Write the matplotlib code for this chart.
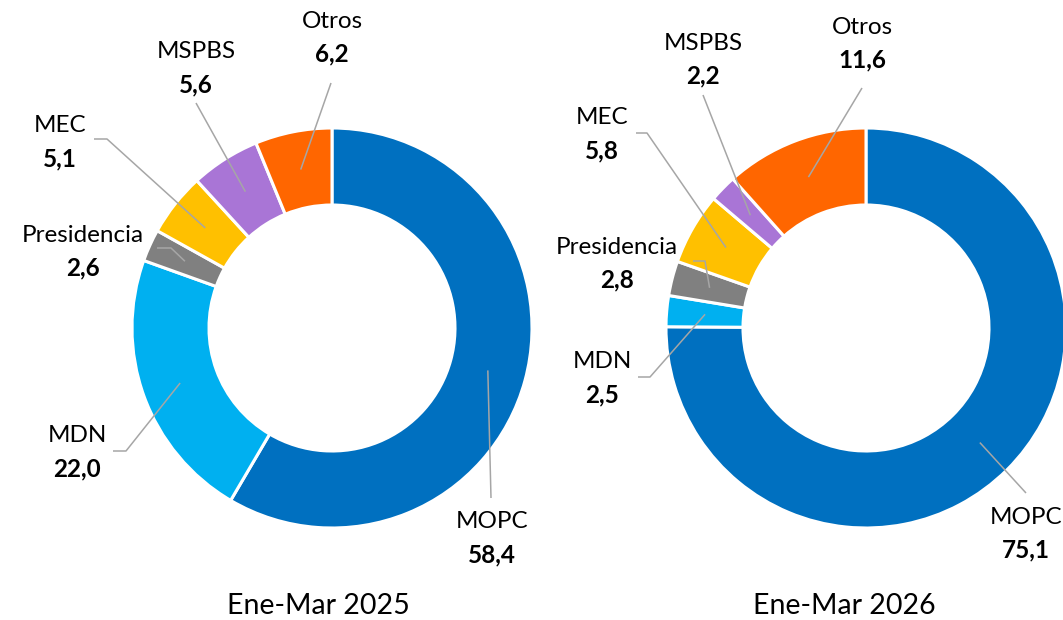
import numpy as np
import matplotlib
matplotlib.use("Agg")
import matplotlib.pyplot as plt

plt.rcParams['font.family'] = ['Lato', 'DejaVu Sans']

# data
categories = ["MOPC", "MDN", "Presidencia", "MEC", "MSPBS", "Otros"]
values_2025 = [58.4, 22.0, 2.6, 5.1, 5.6, 6.2]
values_2026 = [75.1, 2.5, 2.8, 5.8, 2.2, 11.6]
titles = ["Ene-Mar 2025", "Ene-Mar 2026"]
colors = ["#0070C0", "#00B0F0", "#808080", "#FFC000", "#A975D6", "#FF6600"]

# layout (pixel coords, y from top)
W, H = 1063, 620
centers = [(332, 328), (866, 328)]
R = 200
RING = 77
title_pos = [(318, 606), (844, 606)]

# label name position, and leader start point (+ optional elbow)
labels_2025 = {
    "MOPC": ((492, 522), [(491, 498)]),
    "MDN": ((77, 436), [(113, 451), (126, 451)]),
    "Presidencia": ((83, 235), [(157, 248), (171, 248)]),
    "MEC": ((60, 126), [(94, 139), (107, 139)]),
    "MSPBS": ((196, 52), [(196, 103)]),
    "Otros": ((332, 21), [(331, 83)]),
}
labels_2026 = {
    "MOPC": ((1026, 517), [(1026, 493)]),
    "MDN": ((602, 362), [(638, 377), (650, 377)]),
    "Presidencia": ((617, 247), [(693, 261), (705, 261)]),
    "MEC": ((602, 118), [(636, 133), (647, 133)]),
    "MSPBS": ((703, 43), [(703, 95)]),
    "Otros": ((862, 27), [(862, 88)]),
}


def fy(y):
    return H - y


fig = plt.figure(figsize=(W / 100, H / 100), dpi=100)
ax = fig.add_axes([0, 0, 1, 1])

for values, (cx, cy), labels, title, tpos in zip(
        [values_2025, values_2026], centers, [labels_2025, labels_2026],
        titles, title_pos):
    ax.pie(values, colors=colors, center=(cx, fy(cy)), radius=R,
           startangle=90, counterclock=False,
           wedgeprops=dict(width=RING, edgecolor="white", linewidth=2.2))

    total = sum(values)
    cum = np.cumsum([0] + values[:-1])
    r_mid = R - RING / 2
    for cat, v, c0 in zip(categories, values, cum):
        ang = np.deg2rad(90 - 360 * (c0 + v / 2) / total)
        px = cx + r_mid * np.cos(ang)
        py = fy(cy) + r_mid * np.sin(ang)
        (lx, ly), pts = labels[cat]
        xs = [p[0] for p in pts] + [px]
        ys = [fy(p[1]) for p in pts] + [py]
        ax.plot(xs, ys, color="#A6A6A6", lw=1.1, solid_capstyle="butt",
                zorder=3)
        ax.text(lx, fy(ly), cat, ha="center", va="center", fontsize=17.5,
                color="#000000")
        ax.text(lx, fy(ly + 33), f"{v:.1f}".replace(".", ","), ha="center",
                va="center", fontsize=17.5, fontweight="bold",
                color="#000000")

    ax.text(tpos[0], fy(tpos[1]), title, ha="center", va="center",
            fontsize=20.5, color="#000000")

ax.set_xlim(0, W)
ax.set_ylim(0, H)
ax.set_aspect("equal")
ax.axis("off")

fig.savefig("out.png", dpi=100, facecolor="white")
